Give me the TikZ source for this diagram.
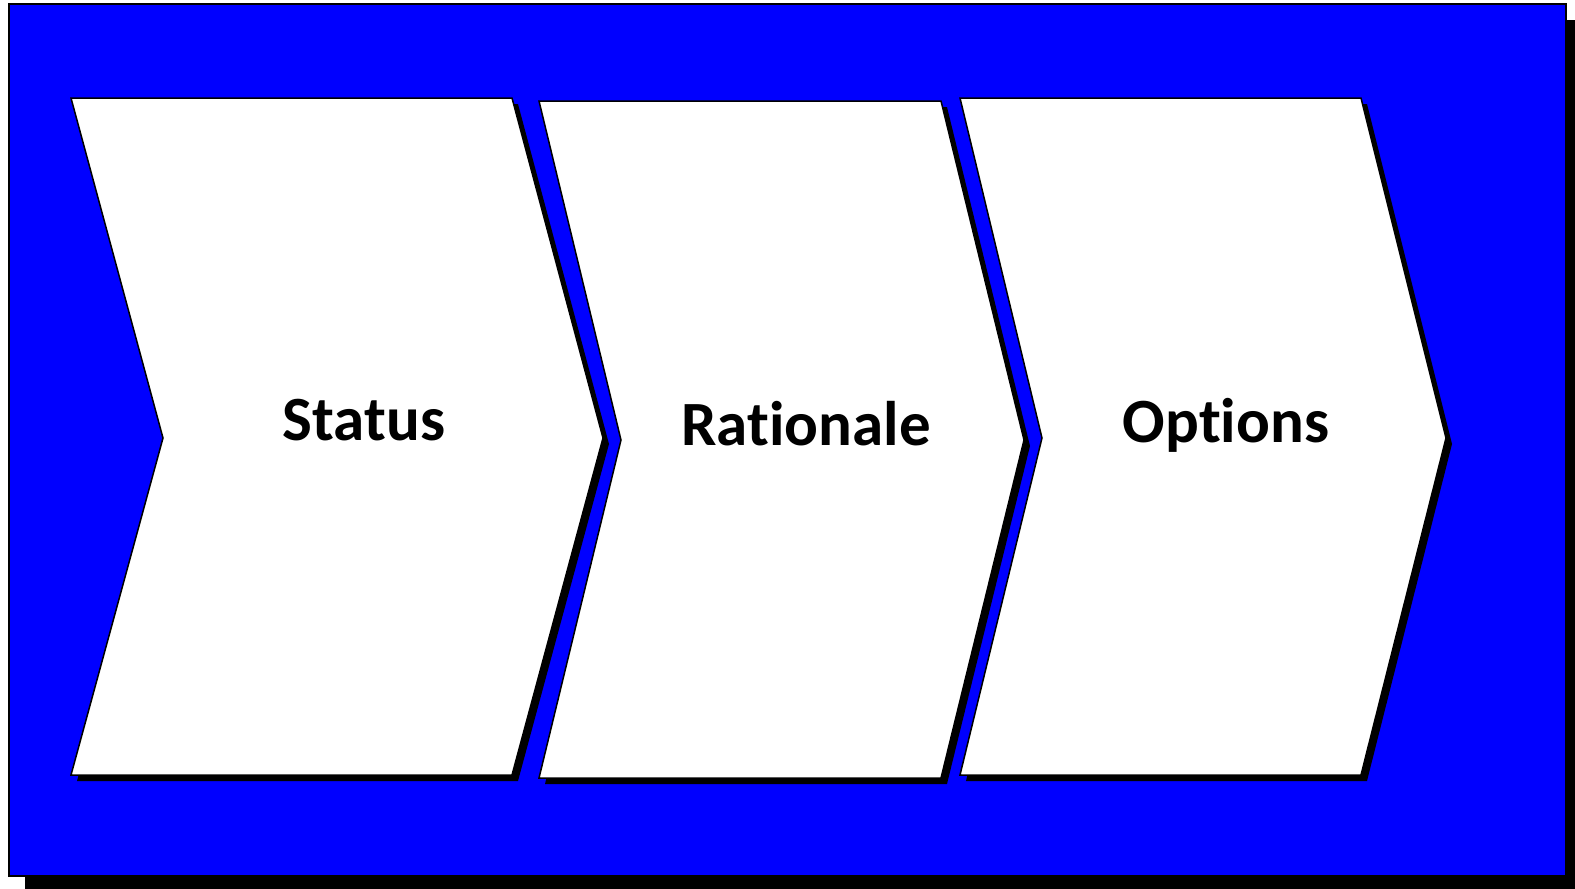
\documentclass[tikz,border=0pt]{standalone}
\usepackage{fontspec}
\setmainfont{Carlito}[RawFeature={-liga}]
\begin{document}
\begin{tikzpicture}[x=1pt,y=-1pt,
  chev/.style={fill=white,draw=black,line width=1.5pt,line join=miter},
  chevshadow/.style={fill=black},
  lbl/.style={anchor=base,font=\fontsize{63}{70}\selectfont\bfseries,inner sep=0pt}]
\useasboundingbox (0,0) rectangle (1575,889);
\begin{scope}
\clip (0,0) rectangle (1575,889);
\fill[black] (25,20) rectangle (1582,892);
\end{scope}
\draw[fill={rgb,255:red,0;green,0;blue,255},draw=black,line width=2pt] (9,4) rectangle (1566,876);
% chevron 1
\fill[chevshadow] (77,104) -- (518,104) -- (609,444) -- (518,781) -- (77,781) -- (169,444) -- cycle;
\draw[chev] (71,98) -- (512,98) -- (603,438) -- (512,775) -- (71,775) -- (163,438) -- cycle;
% chevron 2
\fill[chevshadow] (545,107) -- (947,107) -- (1030,446) -- (947,784) -- (545,784) -- (627,446) -- cycle;
\draw[chev] (539,101) -- (941,101) -- (1024,440) -- (941,778) -- (539,778) -- (621,440) -- cycle;
% chevron 3
\fill[chevshadow] (966,104) -- (1367,104) -- (1452,444) -- (1367,781) -- (966,781) -- (1048,444) -- cycle;
\draw[chev] (960,98) -- (1361,98) -- (1446,438) -- (1361,775) -- (960,775) -- (1042,438) -- cycle;
\node[lbl] (status) at (364,440) {Status};
\node[lbl] (rationale) at (806,445) {Rationale};
\node[lbl] (options) at (1226,442) {Options};
\end{tikzpicture}
\end{document}
